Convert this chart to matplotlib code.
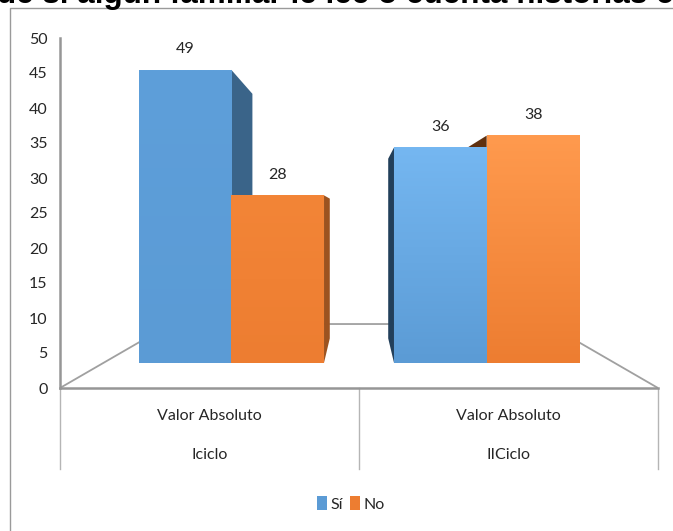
import matplotlib
matplotlib.use("Agg")
import matplotlib.pyplot as plt
import numpy as np
from matplotlib.patches import Patch, Polygon

groups = ["Valor Absoluto", "Valor Absoluto"]
cycles = ["Iciclo", "IICiclo"]
series = ["Sí", "No"]
si_values = [49, 36]
no_values = [28, 38]
y_ticks = [0, 5, 10, 15, 20, 25, 30, 35, 40, 45, 50]

title_text = "de si algún familiar le lee o cuenta historias c"

plt.rcParams["font.family"] = ["Lato", "DejaVu Sans"]

GREY = "#a0a0a0"
TEXT = "#262626"
FS = 11.5
W, H = 673, 531

# perspective used by the 3d look: everything runs towards one point
VP_X, VP_Y = 1.0, 24.7
FRONT = 0.146
BACK = 0.287
HALF = 0.363


def project(x, v, t):
    return x + t * (VP_X - x), v + t * (VP_Y - v)


def side(x, v, color, z):
    pts = [project(x, 0, FRONT), project(x, v, FRONT),
           project(x, v, BACK), project(x, 0, BACK)]
    ax.add_patch(Polygon(pts, closed=True, fc=color, ec="none", zorder=z))


def front(x0, x1, v, top, bottom, z):
    px0, py0 = project(x0, 0, FRONT)
    px1, py1 = project(x1, v, FRONT)
    c0 = np.array(matplotlib.colors.to_rgb(top))
    c1 = np.array(matplotlib.colors.to_rgb(bottom))
    img = np.linspace(c0, c1, 128)[:, None, :]
    ax.imshow(img, extent=[px0, px1, py0, py1], aspect="auto", zorder=z,
              interpolation="bilinear")


fig = plt.figure(figsize=(W / 100, H / 100), dpi=100)
ax = fig.add_axes([60 / W, 1 - 388 / H, 598 / W, 350 / H])

# floor
floor_back = 0.37
fl = [project(0, 0, 0), project(0, 0, floor_back),
      project(2, 0, floor_back), project(2, 0, 0)]
ax.plot([p[0] for p in fl], [p[1] for p in fl], color=GREY, lw=1.3, zorder=1)

# first group
side(0.5, si_values[0], "#3a6489", 2)
front(0.5 - HALF, 0.5, si_values[0], "#5e9fda", "#5b9bd5", 3)
side(0.5 + HALF, no_values[0], "#9c5320", 4)
front(0.5, 0.5 + HALF, no_values[0], "#f38537", "#ed7d31", 5)

# second group
side(1.5 - HALF, si_values[1], "#223f5a", 2)
side(1.5, no_values[1], "#5f300f", 2)
front(1.5 - HALF, 1.5, si_values[1], "#75b7f1", "#5b9bd5", 3)
front(1.5, 1.5 + HALF, no_values[1], "#ff9a4e", "#ed7d31", 3)

ax.set_xlim(0, 2)
ax.set_ylim(0, 50)

# value labels
for i in range(2):
    for x, v in ((i + 0.5 - HALF / 2, si_values[i]), (i + 0.5 + HALF / 2, no_values[i])):
        px, py = project(x, v, FRONT)
        ax.annotate(str(v), (px, py), xytext=(0, 15), textcoords="offset points",
                    ha="center", va="center", fontsize=FS, color=TEXT, zorder=6)

for s in ("top", "right"):
    ax.spines[s].set_visible(False)
for s in ("left", "bottom"):
    ax.spines[s].set_color("#969696")
    ax.spines[s].set_linewidth(1.8)
ax.set_xticks([])
ax.set_yticks(y_ticks)
ax.tick_params(axis="y", length=0, pad=9, labelsize=FS, labelcolor=TEXT)

# two level category axis
trans = ax.get_xaxis_transform()
for x in (0, 1, 2):
    ax.plot([x, x], [0, -81 / 350], transform=trans, color="#b5b5b5", lw=1, clip_on=False)
for i, (g, c) in enumerate(zip(groups, cycles)):
    ax.text(i + 0.5, -28 / 350, g, transform=trans, ha="center", va="center",
            fontsize=FS, color=TEXT)
    ax.text(i + 0.5, -67 / 350, c, transform=trans, ha="center", va="center",
            fontsize=FS, color=TEXT)

handles = [Patch(fc="#5b9bd5", label=series[0]), Patch(fc="#ed7d31", label=series[1])]
fig.legend(handles=handles, loc="center", bbox_to_anchor=(351 / W, 1 - 504 / H), ncol=2,
           frameon=False, fontsize=FS, handlelength=0.6, handleheight=0.9,
           handletextpad=0.25, columnspacing=0.45, labelcolor=TEXT)

# border of the pasted chart and the cut off heading above it
fig.add_artist(plt.Line2D([10 / W, 10 / W, 1], [0, 1 - 8 / H, 1 - 8 / H], color="#9a9a9a", lw=1))
fig.text(-3 / W, 1 - 3 / H, title_text, fontsize=22.6, fontweight="bold", color="black",
         family="Liberation Sans", ha="left", va="baseline")

fig.savefig("out.png", dpi=100, facecolor="white")
